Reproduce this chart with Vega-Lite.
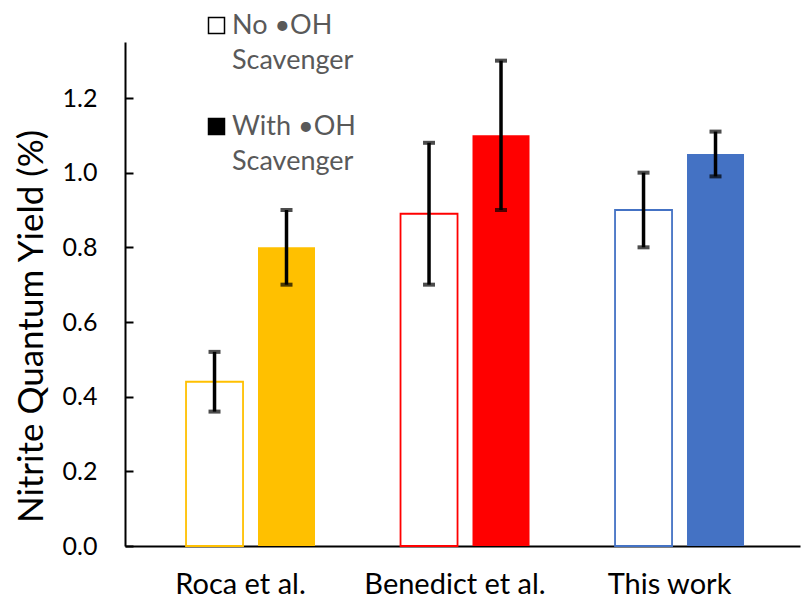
{
  "$schema": "https://vega.github.io/schema/vega-lite/v6.json",
  "width": 675,
  "height": 504,
  "autosize": {"type": "none"},
  "padding": {"left": 125, "top": 42, "right": 2, "bottom": 54},
  "config": {
    "view": {"stroke": null},
    "font": "Lato",
    "style": {"guide-label": {"lineHeight": 35, "dx": -8}},
    "axisY": {
      "titleFont": "Lato",
      "titleFontSize": 35,
      "titleFontWeight": "normal",
      "titleColor": "#000000",
      "titleAngle": -90,
      "titleX": -83,
      "titleY": 284,
      "titleAlign": "center",
      "titleBaseline": "alphabetic",
      "grid": false,
      "labelFont": "Lato",
      "labelFontSize": 25,
      "labelColor": "#000000",
      "tickWidth": 2,
      "tickColor": "#000000",
      "domainColor": "#000000",
      "domainWidth": 2
    }
  },
  "data": {
    "values": [
      {"study": "Roca et al.", "series": "No", "value": 0.44, "lo": 0.36, "hi": 0.52},
      {"study": "Roca et al.", "series": "With", "value": 0.80, "lo": 0.70, "hi": 0.90},
      {"study": "Benedict et al.", "series": "No", "value": 0.89, "lo": 0.70, "hi": 1.08},
      {"study": "Benedict et al.", "series": "With", "value": 1.10, "lo": 0.90, "hi": 1.30},
      {"study": "This work", "series": "No", "value": 0.90, "lo": 0.80, "hi": 1.00},
      {"study": "This work", "series": "With", "value": 1.05, "lo": 0.99, "hi": 1.11}
    ]
  },
  "encoding": {
    "x": {
      "field": "study",
      "type": "nominal",
      "sort": ["Roca et al.", "Benedict et al.", "This work"],
      "scale": {"paddingInner": 0, "paddingOuter": 0.0734, "align": 0.58},
      "axis": {
        "title": null,
        "labelAngle": 0,
        "labelFont": "Lato",
        "labelFontSize": 29,
        "labelColor": "#000000",
        "labelBaseline": "top",
        "labelPadding": 24,
        "labelOffset": -2,
        "labelLimit": 0,
        "labelOverlap": false,
        "ticks": false,
        "tickSize": 0,
        "domainColor": "#000000",
        "domainWidth": 2
      }
    },
    "xOffset": {
      "field": "series",
      "type": "nominal",
      "sort": ["No", "With"],
      "scale": {"paddingInner": 0.208, "paddingOuter": 0.594}
    }
  },
  "layer": [
    {
      "transform": [{"filter": "datum.series == 'No'"}],
      "mark": {"type": "bar", "fill": "#ffffff", "strokeWidth": 1.8},
      "encoding": {
        "y": {
          "field": "value",
          "type": "quantitative",
          "title": "Nitrite Quantum Yield (%)",
          "scale": {"domain": [0, 1.35], "nice": false, "zero": true},
          "axis": {
            "values": [0, 0.2, 0.4, 0.6, 0.8, 1.0, 1.2],
            "format": ".1f",
            "tickSize": -8,
            "labelPadding": 28
          }
        },
        "stroke": {
          "field": "study",
          "type": "nominal",
          "scale": {"domain": ["Roca et al.", "Benedict et al.", "This work"], "range": ["#FFC000", "#FF0000", "#4472C4"]},
          "legend": null
        }
      }
    },
    {
      "transform": [{"filter": "datum.series == 'With'"}],
      "mark": {"type": "bar"},
      "encoding": {
        "y": {"field": "value", "type": "quantitative", "title": "Nitrite Quantum Yield (%)"},
        "color": {
          "field": "study",
          "type": "nominal",
          "scale": {"domain": ["Roca et al.", "Benedict et al.", "This work"], "range": ["#FFC000", "#FF0000", "#4472C4"]},
          "legend": null
        }
      }
    },
    {
      "mark": {"type": "rule", "color": "#000000", "strokeWidth": 3.5},
      "encoding": {
        "y": {"field": "lo", "type": "quantitative", "title": "Nitrite Quantum Yield (%)"},
        "y2": {"field": "hi"}
      }
    },
    {
      "mark": {"type": "tick", "color": "#000000", "thickness": 4, "size": 12, "orient": "horizontal"},
      "encoding": {"y": {"field": "lo", "type": "quantitative", "title": "Nitrite Quantum Yield (%)"}}
    },
    {
      "mark": {"type": "tick", "color": "#000000", "thickness": 4, "size": 12, "orient": "horizontal"},
      "encoding": {"y": {"field": "hi", "type": "quantitative", "title": "Nitrite Quantum Yield (%)"}}
    },
    {
      "mark": {"type": "point", "opacity": 0, "filled": true},
      "encoding": {
        "y": {"field": "value", "type": "quantitative", "title": "Nitrite Quantum Yield (%)"},
        "fill": {
          "field": "series",
          "type": "nominal",
          "scale": {"domain": ["No", "With"], "range": ["#ffffff", "#000000"]},
          "legend": {
            "title": null,
            "orient": "none",
            "legendX": 78,
            "legendY": -30,
            "padding": 0,
            "symbolType": "square",
            "symbolSize": 256,
            "symbolStrokeColor": "#000000",
            "symbolStrokeWidth": 1.5,
            "symbolOpacity": 1,
            "labelFont": "Lato",
            "labelFontSize": 27,
            "labelColor": "#595959",
            "labelOffset": 10,
            "labelLimit": 0,
            "rowPadding": 38,
            "labelExpr": "datum.label == 'No' ? ['No •OH', 'Scavenger'] : ['With •OH', 'Scavenger']"
          }
        }
      }
    }
  ]
}
